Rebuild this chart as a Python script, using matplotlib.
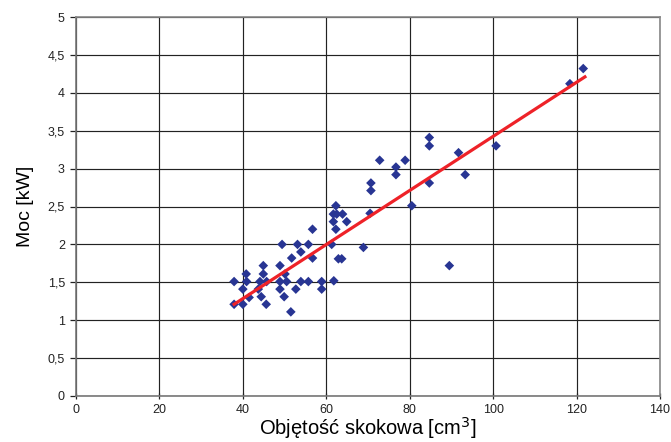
import matplotlib
matplotlib.use('Agg')
import matplotlib.pyplot as plt
import numpy as np

plt.rcParams['font.family'] = ['Liberation Sans', 'DejaVu Sans']

# pojemnosc skokowa [cm3] i moc [kW]
displacement = [37.9, 37.9, 40.0, 40.0, 40.8, 40.9, 41.5,
                 43.7, 44.1, 44.4, 44.9, 44.9, 45.6, 45.7,
                 48.9, 48.9, 48.9, 49.4, 49.9, 50.1, 50.5,
                 51.5, 51.7, 52.7, 53.1, 53.9, 53.9, 55.7, 55.7,
                 56.7, 56.7, 58.9, 58.9, 61.3, 61.7, 61.7, 61.8, 62.3,
                 62.3, 62.5, 62.9, 63.7, 63.9, 64.9, 68.9, 70.5, 70.7,
                 70.7, 72.8, 76.7, 76.7, 78.9, 80.5, 84.7, 84.7, 84.7,
                 89.5, 91.7, 93.3, 100.7, 118.4, 121.6]
power = [1.51, 1.21, 1.21, 1.41, 1.61, 1.51, 1.30,
         1.41, 1.51, 1.31, 1.61, 1.72, 1.21, 1.51,
         1.72, 1.51, 1.41, 2.00, 1.31, 1.61, 1.51,
         1.11, 1.82, 1.41, 2.00, 1.90, 1.51, 2.00, 1.51,
         2.20, 1.82, 1.51, 1.41, 2.00, 2.40, 2.30, 1.52, 2.51,
         2.20, 2.40, 1.81, 1.81, 2.40, 2.30, 1.96, 2.41, 2.71,
         2.81, 3.11, 2.92, 3.02, 3.11, 2.51, 2.81, 3.30, 3.41,
         1.72, 3.21, 2.92, 3.30, 4.12, 4.32]

# linia trendu
trend_x = [37.9, 122.0]
trend_y = [1.21, 4.21]

x_ticks = [0, 20, 40, 60, 80, 100, 120, 140]
y_ticks = [0, 0.5, 1, 1.5, 2, 2.5, 3, 3.5, 4, 4.5, 5]
y_labels = ['0', '0,5', '1', '1,5', '2', '2,5', '3', '3,5', '4', '4,5', '5']

fig = plt.figure(figsize=(6.71, 4.42), dpi=100)
ax = fig.add_axes([76 / 671, 46 / 442, 584 / 671, 379 / 442])

ax.scatter(displacement, power, marker='D', s=24, color='#283593',
           edgecolors='none', zorder=3)
ax.plot(trend_x, trend_y, color='#EE2228', linewidth=2.3, zorder=4)

ax.set_xlim(0, 140)
ax.set_ylim(0, 5)
ax.set_xticks(x_ticks)
ax.set_yticks(y_ticks)
ax.set_yticklabels(y_labels)
ax.grid(True, color='#222222', linewidth=0.85)
ax.set_axisbelow(True)

for side in ['top', 'right']:
    ax.spines[side].set_color('#888888')
    ax.spines[side].set_linewidth(1.2)
for side in ['left', 'bottom']:
    ax.spines[side].set_color('#777777')
    ax.spines[side].set_linewidth(1.2)

ax.tick_params(axis='both', labelsize=9, colors='#222222', length=4,
               width=0.9, direction='inout', pad=4)
ax.tick_params(axis='y', direction='out', length=4, pad=4)

ax.set_ylabel('Moc [kW]', fontsize=14, labelpad=10)
ax.set_xlabel('Objętość skokowa [cm$^3$]', fontsize=14.5, labelpad=-1)

plt.savefig('out.png', dpi=100)
